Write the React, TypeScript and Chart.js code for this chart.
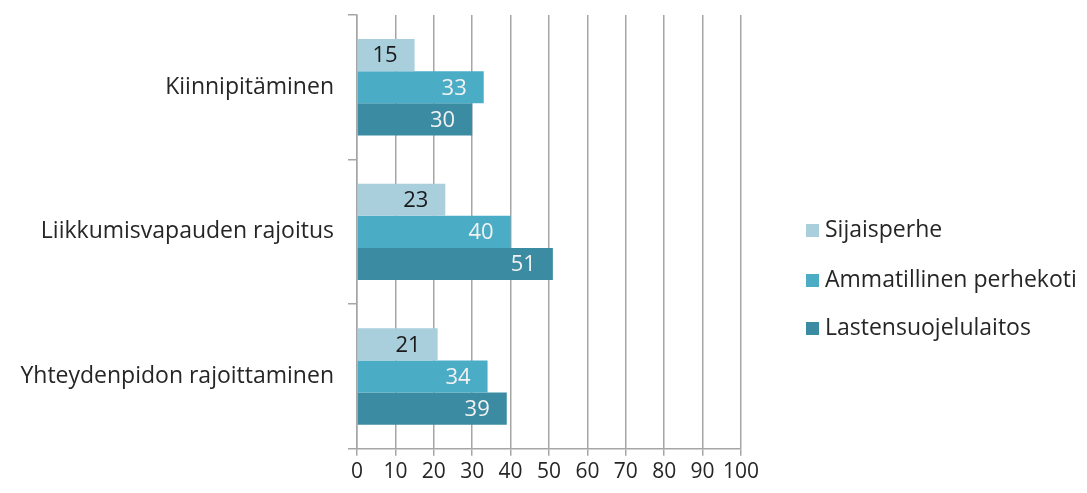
import React, { useEffect, useRef } from "react";
import { Chart, registerables } from "chart.js";

Chart.register(...registerables);

const categories = ["Kiinnipitäminen", "Liikkumisvapauden rajoitus", "Yhteydenpidon rajoittaminen"];
const seriesNames = ["Sijaisperhe", "Ammatillinen perhekoti", "Lastensuojelulaitos"];
const sijaisperhe = [15, 23, 21];
const ammatillinen = [33, 40, 34];
const laitos = [30, 51, 39];
const colors = ["#A9CFDC", "#4BACC6", "#3B8BA3"];
const labelColors = ["#1a1a1a", "#F2F2F2", "#F2F2F2"];
const FONT = "'Open Sans', 'Noto Sans', sans-serif";

const labelPlugin = {
  id: "valueLabels",
  afterDatasetsDraw(chart: any) {
    const ctx = chart.ctx;
    ctx.save();
    ctx.font = `22px ${FONT}`;
    ctx.textAlign = "right";
    ctx.textBaseline = "middle";
    chart.data.datasets.forEach((ds: any, i: number) => {
      const meta = chart.getDatasetMeta(i);
      meta.data.forEach((bar: any, j: number) => {
        ctx.fillStyle = labelColors[i];
        ctx.fillText(String(ds.data[j]), bar.x - 17, bar.y + 1);
      });
    });
    ctx.restore();
  },
};

const legendPlugin = {
  id: "customLegend",
  afterDraw(chart: any) {
    const ctx = chart.ctx;
    ctx.save();
    ctx.font = `23px ${FONT}`;
    ctx.textBaseline = "middle";
    ctx.textAlign = "left";
    const x = 806;
    const ys = [230, 280, 328];
    chart.data.datasets.forEach((ds: any, i: number) => {
      ctx.fillStyle = ds.backgroundColor;
      ctx.fillRect(x, ys[i] - 6, 13, 13);
      ctx.fillStyle = "#262626";
      ctx.fillText(ds.label, x + 19, ys[i]);
    });
    ctx.restore();
  },
};

export default function App() {
  const ref = useRef<HTMLCanvasElement>(null);
  useEffect(() => {
    document.body.style.margin = "0";
    const chart = new Chart(ref.current!, {
      type: "bar",
      data: {
        labels: categories,
        datasets: [
          { label: seriesNames[0], data: sijaisperhe, backgroundColor: colors[0] },
          { label: seriesNames[1], data: ammatillinen, backgroundColor: colors[1] },
          { label: seriesNames[2], data: laitos, backgroundColor: colors[2] },
        ],
      },
      options: {
        indexAxis: "y",
        animation: false,
        responsive: false,
        layout: { padding: { top: 15, right: 346, left: 0, bottom: 4 } },
        datasets: { bar: { categoryPercentage: 0.667, barPercentage: 1.0 } },
        plugins: { legend: { display: false }, tooltip: { enabled: false } },
        scales: {
          x: {
            min: 0,
            max: 100,
            ticks: { stepSize: 10, autoSkip: false, color: "#262626", font: { size: 21, family: FONT }, padding: 4, maxRotation: 0 },
            grid: { color: "#A6A6A6", lineWidth: 1.5, tickLength: 7 },
            border: { color: "#A6A6A6", width: 1.5 },
          },
          y: {
            afterFit(scale: any) {
              scale.width = 357;
              scale.paddingTop = 0;
              scale.paddingBottom = 0;
            },
            ticks: { color: "#262626", font: { size: 23, family: FONT }, padding: 14 },
            grid: { drawOnChartArea: false, color: "#A6A6A6", lineWidth: 1.5, tickLength: 9, offset: true },
            border: { color: "#A6A6A6", width: 1.5 },
          },
        },
      },
      plugins: [labelPlugin, legendPlugin],
    });
    return () => chart.destroy();
  }, []);
  return <canvas ref={ref} width={1087} height={493} style={{ display: "block" }} />;
}
